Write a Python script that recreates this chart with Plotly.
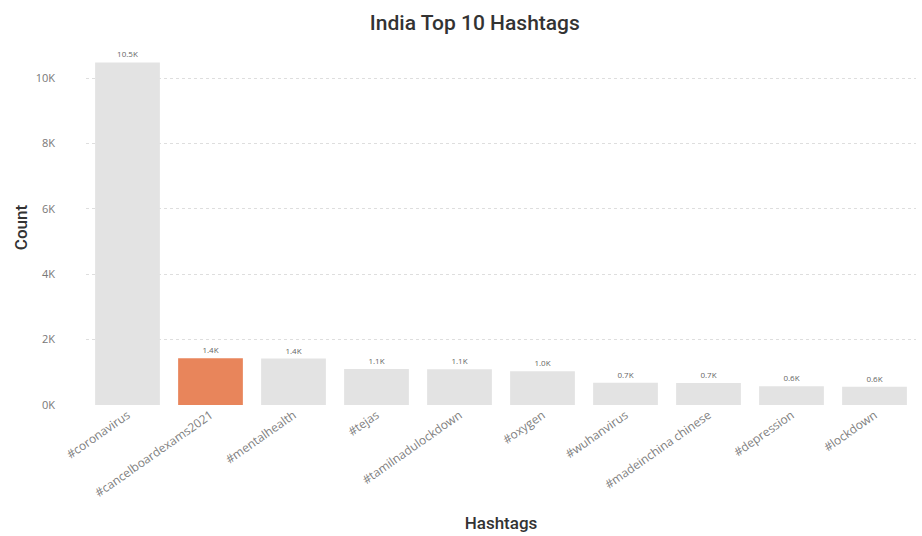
import plotly.graph_objects as go

# Top hashtags and their tweet counts
hashtags = ["#coronavirus", "#cancelboardexams2021", "#mentalhealth", "#tejas",
            "#tamilnadulockdown", "#oxygen", "#wuhanvirus", "#madeinchina chinese",
            "#depression", "#lockdown"]
counts = [10480, 1430, 1420, 1100, 1090, 1030, 680, 670, 570, 560]
highlight = "#cancelboardexams2021"

y_ticks = [0, 2000, 4000, 6000, 8000, 10000]
y_tick_text = ["0K", "2K", "4K", "6K", "8K", "10K"]

bar_colors = ["#E8855B" if h == highlight else "#E3E3E3" for h in hashtags]
value_text = [f"{c / 1000:.1f}K" for c in counts]

fig = go.Figure(go.Bar(
    x=hashtags,
    y=counts,
    marker=dict(color=bar_colors, line=dict(width=0)),
    text=value_text,
    textposition="outside",
    textfont=dict(family="Open Sans", size=8, color="#666666"),
    cliponaxis=False,
    hoverinfo="x+y",
))

fig.update_layout(
    width=922,
    height=536,
    paper_bgcolor="white",
    plot_bgcolor="white",
    margin=dict(l=86, r=6, t=50, b=131),
    bargap=0.22,
    showlegend=False,
    title=dict(
        text="India Top 10 Hashtags",
        x=0.515, xanchor="center",
        y=0.958, yanchor="middle",
        font=dict(family="Roboto", size=21, color="#333333", weight=500),
    ),
    xaxis=dict(
        title=dict(text="Hashtags",
                   font=dict(family="Roboto", size=17, color="#333333", weight=500),
                   standoff=17),
        tickangle=-35,
        tickfont=dict(family="Open Sans", size=12, color="#808080"),
        showgrid=False,
        showline=False,
        ticks="",
        automargin=False,
    ),
    yaxis=dict(
        title=dict(text="Count",
                   font=dict(family="Roboto", size=17, color="#333333", weight=500),
                   standoff=3),
        range=[0, 10860],
        tickvals=y_ticks,
        ticktext=y_tick_text,
        tickfont=dict(family="Open Sans", size=11, color="#777777"),
        ticklabelstandoff=30,
        showgrid=True,
        gridcolor="#DEDEDE",
        griddash="dot",
        gridwidth=1,
        zeroline=False,
        showline=False,
        ticks="",
        automargin=False,
    ),
)

fig.write_html("out.html")
